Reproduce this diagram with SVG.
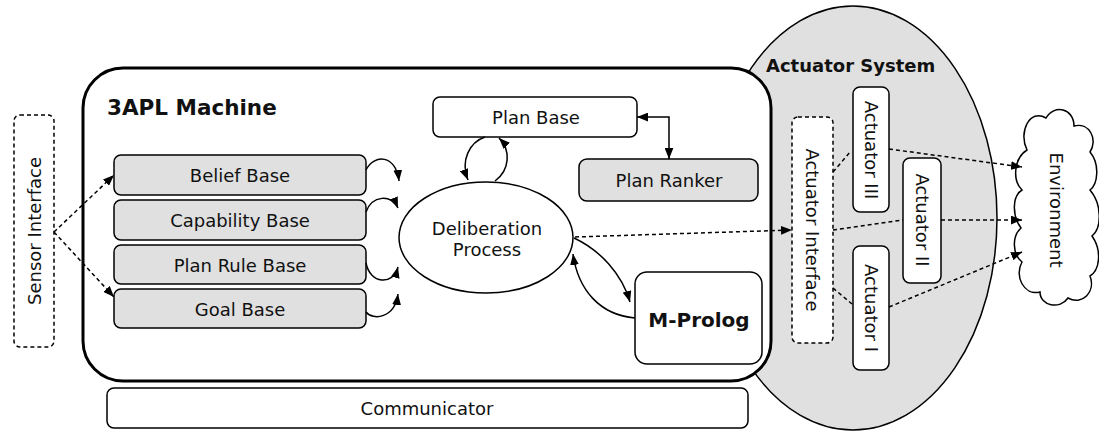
<svg xmlns="http://www.w3.org/2000/svg" width="1099" height="432" viewBox="0 0 1099 432">
<style>
text{font-family:"DejaVu Sans",Verdana,sans-serif;font-size:18px;fill:#111}
.b{font-weight:bold}
.box{fill:#fff;stroke:#000;stroke-width:1.5}
.gray{fill:#e0e0e0;stroke:#000;stroke-width:1.5}
.dash{fill:#fff;stroke:#000;stroke-width:1.5;stroke-dasharray:4 3}
.c{fill:none;stroke:#000;stroke-width:1.5}
.d{fill:none;stroke:#000;stroke-width:1.5;stroke-dasharray:4 3}
</style>
<defs>
<marker id="ah" viewBox="0 0 10 8" refX="10" refY="4" markerWidth="11" markerHeight="9" markerUnits="userSpaceOnUse" orient="auto-start-reverse">
<path d="M0,0 L10,4 L0,8 z" fill="#000"/>
</marker>
</defs>

<g id="actuator-system">
<ellipse cx="853" cy="218" rx="144" ry="212" fill="#e0e0e0" stroke="#000" stroke-width="1.5"/>
<text class="b" x="766" y="72">Actuator System</text>
</g>

<g id="machine">
<rect x="83" y="68" width="688" height="313" rx="40" fill="#fff" stroke="#000" stroke-width="3"/>
<text class="b" x="107" y="115" style="font-size:21.5px">3APL Machine</text>
</g>

<g id="sensor-interface">
<rect class="dash" x="14" y="115" width="40" height="232" rx="6"/>
<text transform="translate(34,231) rotate(-90)" y="6.5" text-anchor="middle">Sensor Interface</text>
</g>

<g id="belief-base">
<rect class="gray" x="114" y="155" width="252" height="40" rx="7"/>
<text x="240" y="182" text-anchor="middle">Belief Base</text>
</g>
<g id="capability-base">
<rect class="gray" x="114" y="200" width="252" height="40" rx="7"/>
<text x="240" y="227" text-anchor="middle">Capability Base</text>
</g>
<g id="plan-rule-base">
<rect class="gray" x="114" y="245" width="252" height="39" rx="7"/>
<text x="240" y="272" text-anchor="middle">Plan Rule Base</text>
</g>
<g id="goal-base">
<rect class="gray" x="114" y="289" width="252" height="39" rx="7"/>
<text x="240" y="316" text-anchor="middle">Goal Base</text>
</g>

<g id="plan-base">
<rect class="box" x="433" y="97" width="204" height="40" rx="7"/>
<text x="536" y="124" text-anchor="middle">Plan Base</text>
</g>
<g id="plan-ranker">
<rect class="gray" x="579" y="159" width="179" height="42" rx="8"/>
<text x="669" y="187" text-anchor="middle">Plan Ranker</text>
</g>
<g id="deliberation">
<ellipse cx="486" cy="237.5" rx="87" ry="55.5" fill="#fff" stroke="#000" stroke-width="1.5"/>
<text x="487" y="235" text-anchor="middle">Deliberation</text>
<text x="487" y="256" text-anchor="middle">Process</text>
</g>
<g id="m-prolog">
<rect class="box" x="635" y="272" width="127" height="92" rx="12"/>
<text class="b" x="699" y="327" text-anchor="middle" style="font-size:20px">M-Prolog</text>
</g>

<g id="communicator">
<rect class="box" x="107" y="388" width="641" height="40" rx="7"/>
<text x="427" y="415" text-anchor="middle">Communicator</text>
</g>

<g id="actuator-interface">
<rect class="dash" x="792" y="117" width="41" height="226" rx="6"/>
<text transform="translate(812,230) rotate(90)" y="6.5" text-anchor="middle">Actuator Interface</text>
</g>
<g id="actuator-3">
<rect class="box" x="853" y="87" width="36" height="125" rx="7"/>
<text transform="translate(871,150) rotate(90)" y="6.5" text-anchor="middle">Actuator III</text>
</g>
<g id="actuator-2">
<rect class="box" x="903" y="158" width="38" height="125" rx="7"/>
<text transform="translate(922,220) rotate(90)" y="6.5" text-anchor="middle">Actuator II</text>
</g>
<g id="actuator-1">
<rect class="box" x="853" y="246" width="36" height="124" rx="7"/>
<text transform="translate(871,308) rotate(90)" y="6.5" text-anchor="middle">Actuator I</text>
</g>

<g id="environment">
<path fill="#fff" stroke="#000" stroke-width="1.5" d="M1027,150 C1018,132 1030,108 1046,118 C1054,104 1074,108 1074,126 C1090,122 1098,140 1090,152 C1100,164 1098,184 1090,190 C1102,204 1102,228 1092,236 C1102,250 1100,270 1090,276 C1096,292 1082,306 1068,298 C1060,310 1040,306 1040,292 C1024,296 1014,276 1022,262 C1012,254 1012,236 1021,228 C1012,216 1012,196 1022,190 C1012,180 1014,158 1027,150 Z"/>
<text transform="translate(1056,210) rotate(90)" y="6.5" text-anchor="middle">Environment</text>
</g>

<g id="connectors">
<path class="d" d="M54,232 L114,175" marker-end="url(#ah)"/>
<path class="d" d="M54,232 L114,297" marker-end="url(#ah)"/>
<path class="c" d="M366,170 C374,154 396,154 399,181" marker-end="url(#ah)"/>
<path class="c" d="M366,212 C372,195 392,194 398,208" marker-end="url(#ah)"/>
<path class="c" d="M366,263 C370,284 393,286 398,267" marker-end="url(#ah)"/>
<path class="c" d="M366,312 C373,321 395,318 398,294" marker-end="url(#ah)"/>
<path class="c" d="M485,137 C470,142 460,160 468,180" marker-end="url(#ah)"/>
<path class="c" d="M495,181 C510,170 511,150 499,138" marker-end="url(#ah)"/>
<path class="c" d="M637,117 L669,117 L669,159" marker-start="url(#ah)" marker-end="url(#ah)"/>
<path class="c" d="M574,238 C600,250 622,274 630,302" marker-end="url(#ah)"/>
<path class="c" d="M635,318 C600,315 578,290 573,254" marker-end="url(#ah)"/>
<path class="d" d="M575,237 L792,230" marker-end="url(#ah)"/>
<path class="d" d="M833,172 L851,151"/>
<path class="d" d="M889,149 L1022,167" marker-end="url(#ah)"/>
<path class="d" d="M833,230 L903,220"/>
<path class="d" d="M941,220 L1022,220" marker-end="url(#ah)"/>
<path class="d" d="M833,288 L852,304"/>
<path class="d" d="M889,307 L1022,252" marker-end="url(#ah)"/>
</g>
</svg>
